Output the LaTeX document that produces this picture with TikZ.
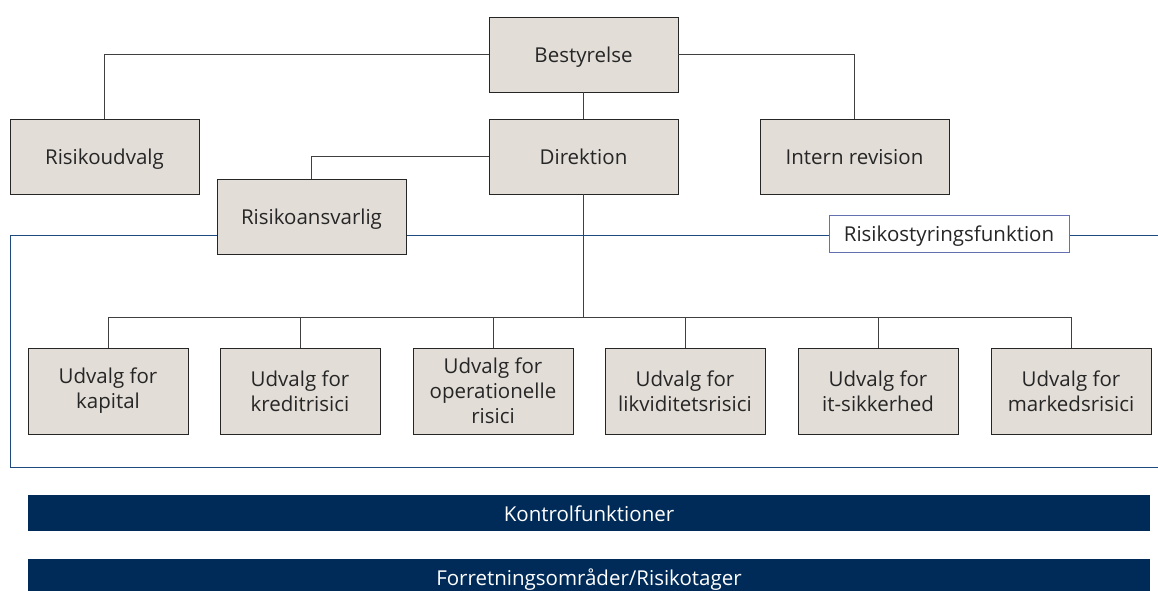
\documentclass[tikz,border=0pt]{standalone}
\usepackage{fontspec}
\setmainfont{Open Sans}
\definecolor{boxfill}{HTML}{E2DDD7}
\definecolor{navy}{HTML}{002B59}
\definecolor{frameblue}{HTML}{1F4A80}
\definecolor{tagblue}{HTML}{6470B0}
\begin{document}
\begin{tikzpicture}[x=1pt,y=-1pt,
    oneline/.style={text height=16.5pt, text depth=0pt},
    unit/.style={draw=black!85, fill=boxfill, line width=0.9pt, inner sep=0pt,
      minimum width=189pt, minimum height=75pt, text=black!85,
      font=\fontsize{20.5}{25}\selectfont},
    cmte/.style={unit, minimum width=160pt, minimum height=86pt, align=center},
    tag/.style={draw=tagblue, fill=white, line width=0.9pt, inner sep=0pt,
      minimum width=240pt, minimum height=37pt, text=black!85, oneline,
      font=\fontsize{20.5}{25}\selectfont},
    bar/.style={fill=navy, text=white, inner sep=0pt, oneline,
      minimum width=1122pt, minimum height=36pt, font=\fontsize{20.5}{25}\selectfont},
    link/.style={draw=black!75, line width=0.9pt}]

    \useasboundingbox (0,0) rectangle (1158,590);

    % frame of the risk function
    \draw[frameblue, line width=0.9pt] (1158,235) -- (10,235) -- (10,467) -- (1158,467);

    \node[unit, oneline] (best) at (583.5,54.5) {Bestyrelse};
    \node[unit, oneline] (risu) at (104.5,156.5) {Risikoudvalg};
    \node[unit, oneline] (dir) at (583.5,156.5) {Direktion};
    \node[unit, oneline] (intrev) at (854.5,156.5) {Intern revision};
    \node[unit, oneline] (risa) at (311.5,216.5) {Risikoansvarlig};
    \node[tag] (rsf) at (949,233.5) {Risikostyringsfunktion};

    \coordinate (bus) at (583.5,317);

    \foreach \n/\x/\txt in {kap/108/{Udvalg for\\kapital},
                             kred/300/{Udvalg for\\kreditrisici},
                             oper/493/{Udvalg for\\operationelle\\risici},
                             likv/685/{Udvalg for\\likviditetsrisici},
                             it/878/{Udvalg for\\it-sikkerhed},
                             mark/1071/{Udvalg for\\markedsrisici}}{
      \node[cmte] (\n) at (\x,391) {\txt};
      \draw[link] (bus) -| (\n.north);
    }

    \draw[link] (best.west) -| (risu.north);
    \draw[link] (best.east) -| (intrev.north);
    \draw[link] (best.south) -- (dir.north);
    \draw[link] (dir.west) -| (risa.north);
    \draw[link] (dir.south) -- (bus);

    \node[bar] (kontrol) at (589,513) {Kontrolfunktioner};
    \node[bar] (forret) at (589,577) {Forretningsområder/Risikotager};

\end{tikzpicture}
\end{document}
